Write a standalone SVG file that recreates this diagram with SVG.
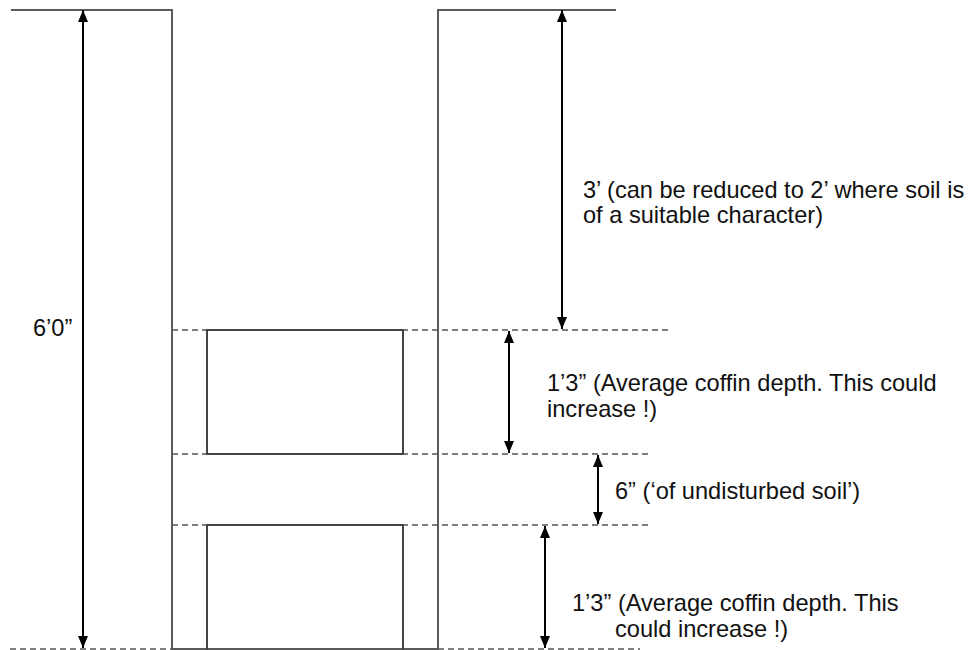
<svg xmlns="http://www.w3.org/2000/svg" width="972" height="650" viewBox="0 0 972 650">
<style>
.wall{stroke:#5a5a5a;stroke-width:2;fill:none}
.dash{stroke:#555;stroke-width:1.6;stroke-dasharray:6 4;fill:none}
.coffin{stroke:#444;stroke-width:2;fill:none}
.dim{stroke:#000;stroke-width:2;fill:none;marker-start:url(#ah);marker-end:url(#ah)}
text{font-family:"Liberation Sans",Arial,sans-serif;font-size:23.6px;fill:#111}
</style>
<defs>
<marker id="ah" viewBox="0 0 12 10" refX="12" refY="5" markerWidth="12" markerHeight="10" markerUnits="userSpaceOnUse" orient="auto-start-reverse">
<path d="M0,0 L12,5 L0,10 z" fill="#000"/>
</marker>
</defs>
<rect width="972" height="650" fill="#fff"/>
<g id="grave">
<polyline class="wall" points="11,10 172,10 172,650"/>
<polyline class="wall" points="438,650 438,10 616,10"/>
<line class="wall" x1="172" y1="649" x2="438" y2="649"/>
</g>
<g id="levels">
<line class="dash" x1="172" y1="330" x2="668" y2="330"/>
<line class="dash" x1="172" y1="454" x2="650" y2="454"/>
<line class="dash" x1="172" y1="525" x2="652" y2="525"/>
<line class="dash" x1="10" y1="649" x2="172" y2="649"/>
<line class="dash" x1="438" y1="649" x2="640" y2="649"/>
</g>
<g id="coffin1"><rect class="coffin" x="207" y="330" width="196" height="124"/></g>
<g id="coffin2"><polyline class="coffin" points="207,650 207,525 403,525 403,650"/></g>
<g id="connectors">
<line class="dim" x1="83" y1="10" x2="83" y2="648"/>
<line class="dim" x1="562" y1="10" x2="562" y2="329"/>
<line class="dim" x1="509" y1="331" x2="509" y2="453"/>
<line class="dim" x1="598" y1="455" x2="598" y2="524"/>
<line class="dim" x1="545" y1="526" x2="545" y2="648"/>
</g>
<g id="labels">
<text x="33" y="336">6’0”</text>
<text x="583" y="198">3’ (can be reduced to 2’ where soil is</text>
<text x="583" y="223">of a suitable character)</text>
<text x="547" y="391">1’3” (Average coffin depth. This could</text>
<text x="547" y="417">increase !)</text>
<text x="615" y="499">6” (‘of undisturbed soil’)</text>
<text x="572" y="611">1’3” (Average coffin depth. This</text>
<text x="615" y="637">could increase !)</text>
</g>
</svg>
